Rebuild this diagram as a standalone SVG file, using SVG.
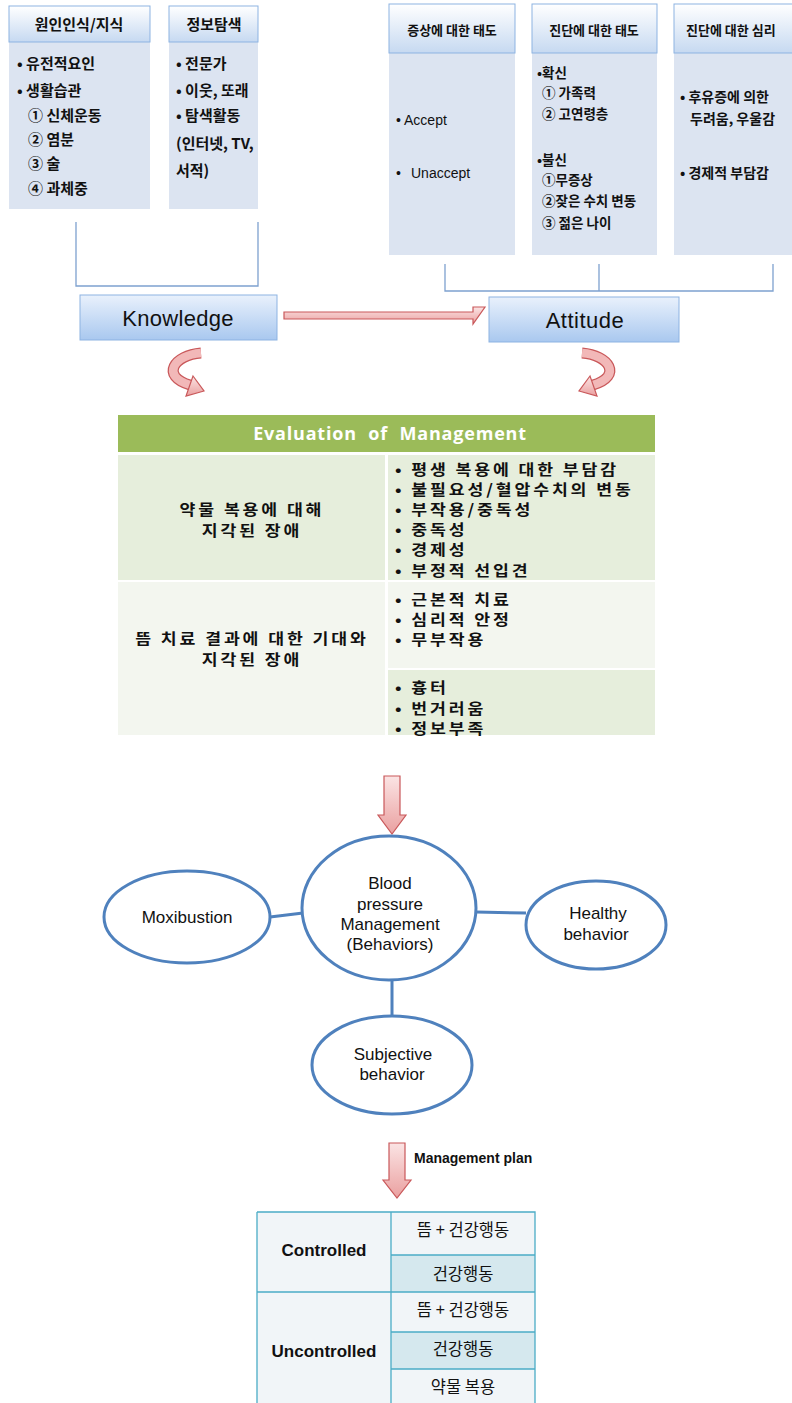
<svg xmlns="http://www.w3.org/2000/svg" width="792" height="1403" viewBox="0 0 792 1403">
<defs>
<linearGradient id="hdr" x1="0" y1="0" x2="0" y2="1"><stop offset="0" stop-color="#ffffff"/><stop offset="1" stop-color="#c6d9f1"/></linearGradient>
<linearGradient id="kbox" x1="0" y1="0" x2="0" y2="1"><stop offset="0" stop-color="#e9f1fc"/><stop offset="1" stop-color="#a9c8ef"/></linearGradient>
<linearGradient id="pink" x1="0" y1="0" x2="0" y2="1"><stop offset="0" stop-color="#fbe4e4"/><stop offset="1" stop-color="#eaa0a0"/></linearGradient>
</defs>
<style>
.hd{fill:url(#hdr);stroke:#8db3e2;stroke-width:1}
.bd{fill:#dce4f1}
.kr{font-family:"Noto Sans CJK KR","Liberation Sans",sans-serif;font-weight:bold;fill:#111}
.en{font-family:"Liberation Sans","Noto Sans CJK KR",sans-serif;fill:#111}
.ln{stroke:#7ea1cf;stroke-width:1.3;fill:none}
.arr{fill:url(#pink);stroke:#c9585a;stroke-width:1.2}
.ell{fill:#fff;stroke:#4f81bd;stroke-width:3}
.con{stroke:#4f81bd;stroke-width:3;fill:none}
.tb{stroke:#4bacc6;stroke-width:1.3}
.ev{letter-spacing:2.5px}
</style>

<g id="box-cause">
<rect x="9" y="42" width="141" height="167" class="bd"/>
<rect x="9" y="6" width="141" height="36" class="hd"/>
<text x="79" y="30" class="kr" font-size="15" text-anchor="middle">원인인식/지식</text>
<text class="kr" font-size="15"><tspan x="17" y="69">• 유전적요인</tspan><tspan x="17" y="96">• 생활습관</tspan><tspan x="28" y="121">① 신체운동</tspan><tspan x="28" y="145">② 염분</tspan><tspan x="28" y="169">③ 술</tspan><tspan x="28" y="194">④ 과체중</tspan></text>
</g>
<g id="box-info">
<rect x="169" y="42" width="89" height="167" class="bd"/>
<rect x="169" y="6" width="89" height="36" class="hd"/>
<text x="214" y="30" class="kr" font-size="15" text-anchor="middle">정보탐색</text>
<text class="kr" font-size="15"><tspan x="176" y="69">• 전문가</tspan><tspan x="176" y="96">• 이웃, 또래</tspan><tspan x="176" y="121">• 탐색활동</tspan><tspan x="176" y="149">(인터넷, TV,</tspan><tspan x="176" y="176">서적)</tspan></text>
</g>
<g id="box-symptom">
<rect x="389" y="53" width="126" height="202" class="bd"/>
<rect x="389" y="4" width="126" height="49" class="hd"/>
<text x="452" y="35" class="kr" font-size="13" text-anchor="middle">증상에 대한 태도</text>
<text class="en" font-size="14"><tspan x="396" y="125">• Accept</tspan><tspan x="396" y="178">•</tspan><tspan x="411" y="178">Unaccept</tspan></text>
</g>
<g id="box-diag">
<rect x="532" y="53" width="125" height="202" class="bd"/>
<rect x="532" y="4" width="125" height="49" class="hd"/>
<text x="594" y="35" class="kr" font-size="13" text-anchor="middle">진단에 대한 태도</text>
<text class="kr" font-size="13.5"><tspan x="537" y="78">•확신</tspan><tspan x="542" y="98">① 가족력</tspan><tspan x="542" y="119">② 고연령층</tspan><tspan x="537" y="165">•불신</tspan><tspan x="542" y="185">①무증상</tspan><tspan x="542" y="206">②잦은 수치 변동</tspan><tspan x="542" y="228">③ 젊은 나이</tspan></text>
</g>
<g id="box-psych">
<rect x="674" y="53" width="120" height="202" class="bd"/>
<rect x="674" y="4" width="120" height="49" class="hd"/>
<text x="686" y="35" class="kr" font-size="13">진단에 대한 심리</text>
<text class="kr" font-size="14"><tspan x="680" y="102">• 후유증에 의한</tspan><tspan x="690" y="124">두려움, 우울감</tspan><tspan x="680" y="178">• 경제적 부담감</tspan></text>
</g>

<g id="connectors">
<path class="ln" d="M76 222 V286 H258 V222"/>
<path class="ln" d="M445 264 V291 H773 V264 M599 264 V291"/>
<path class="arr" d="M284 312 H473 V307 H485 L473 324 V319 H284 Z"/>
<path class="con" d="M270 917 L303 913 M476 912 L526 913 M392 980 V1017"/>
</g>

<g id="knowledge">
<rect x="80" y="295" width="197" height="45" fill="url(#kbox)" stroke="#8db3e2"/>
<text x="178" y="326" class="en" font-size="22" letter-spacing="0.3" text-anchor="middle">Knowledge</text>
</g>
<g id="attitude">
<rect x="489" y="297" width="190" height="45" fill="url(#kbox)" stroke="#8db3e2"/>
<text x="585" y="328" class="en" font-size="22" letter-spacing="0.5" text-anchor="middle">Attitude</text>
</g>

<g id="curve-left">
<path d="M201 353 C174 355 160 376 190 385" fill="none" stroke="#c9585a" stroke-width="11"/>
<path d="M201 353 C174 355 160 376 190 385" fill="none" stroke="#f2b8b8" stroke-width="8.5"/>
<path class="arr" d="M193 376 L204 391 L186 396 Z"/>
</g>
<g id="curve-right">
<path d="M582 353 C609 355 623 376 593 385" fill="none" stroke="#c9585a" stroke-width="11"/>
<path d="M582 353 C609 355 623 376 593 385" fill="none" stroke="#f2b8b8" stroke-width="8.5"/>
<path class="arr" d="M590 376 L579 391 L597 396 Z"/>
</g>

<g id="evaluation">
<rect x="118" y="415" width="537" height="37" fill="#9bbb59"/>
<text x="390" y="440" font-family="Open Sans, Liberation Sans, sans-serif" font-weight="bold" font-size="18" fill="#fff" text-anchor="middle" letter-spacing="0.8" word-spacing="6">Evaluation of Management</text>
<rect x="118" y="455" width="267" height="125" fill="#e6eedc"/>
<rect x="388" y="455" width="267" height="125" fill="#e6eedc"/>
<rect x="118" y="582" width="267" height="153" fill="#f3f6ef"/>
<rect x="388" y="582" width="267" height="86" fill="#f3f6ef"/>
<rect x="388" y="670" width="267" height="65" fill="#e6eedc"/>
<g transform="translate(252 0) scale(1.15 1) translate(-252 0)">
<text class="kr ev" font-size="15" text-anchor="middle"><tspan x="252" y="515">약물 복용에 대해</tspan><tspan x="252" y="536">지각된 장애</tspan></text>
<text class="kr ev" font-size="15" text-anchor="middle"><tspan x="252" y="644">뜸 치료 결과에 대한 기대와</tspan><tspan x="252" y="665">지각된 장애</tspan></text>
</g>
<g transform="translate(395 0) scale(1.15 1) translate(-395 0)">
<text class="kr ev" font-size="15"><tspan x="395" y="475">• 평생 복용에 대한 부담감</tspan><tspan x="395" y="495">• 불필요성/혈압수치의 변동</tspan><tspan x="395" y="515">• 부작용/중독성</tspan><tspan x="395" y="535">• 중독성</tspan><tspan x="395" y="555">• 경제성</tspan><tspan x="395" y="576">• 부정적 선입견</tspan></text>
<text class="kr ev" font-size="15"><tspan x="395" y="605">• 근본적 치료</tspan><tspan x="395" y="625">• 심리적 안정</tspan><tspan x="395" y="645">• 무부작용</tspan><tspan x="395" y="693">• 흉터</tspan><tspan x="395" y="714">• 번거러움</tspan><tspan x="395" y="734">• 정보부족</tspan></text>
</g>
</g>

<g id="arrow-down-1">
<path class="arr" d="M384 776 H400 V815 H406 L392 834 L378 815 H384 Z"/>
</g>

<g id="bp-management">
<ellipse cx="389" cy="908" rx="87" ry="72" class="ell"/>
<text class="en" font-size="17" text-anchor="middle" fill="#333"><tspan x="390" y="889">Blood</tspan><tspan x="390" y="910">pressure</tspan><tspan x="390" y="930">Management</tspan><tspan x="390" y="950">(Behaviors)</tspan></text>
</g>
<g id="moxibustion">
<ellipse cx="187" cy="917" rx="83" ry="46" class="ell"/>
<text x="187" y="923" class="en" font-size="17" fill="#333" text-anchor="middle">Moxibustion</text>
</g>
<g id="healthy">
<ellipse cx="596" cy="925" rx="70" ry="44" class="ell"/>
<text class="en" font-size="17" fill="#333" text-anchor="middle"><tspan x="598" y="919">Healthy</tspan><tspan x="596" y="940">behavior</tspan></text>
</g>
<g id="subjective">
<ellipse cx="392" cy="1065" rx="80" ry="49" class="ell"/>
<text class="en" font-size="17" fill="#333" text-anchor="middle"><tspan x="393" y="1060">Subjective</tspan><tspan x="392" y="1080">behavior</tspan></text>
</g>

<g id="arrow-down-2">
<path class="arr" d="M389 1143 H405 V1180 H411 L397 1198 L383 1180 H389 Z"/>
<text x="414" y="1163" class="en" font-size="14" font-weight="bold" fill="#222">Management plan</text>
</g>

<g id="plan-table">
<rect x="257" y="1212" width="134" height="191" fill="#f1f5f8"/>
<rect x="391" y="1212" width="144" height="191" fill="#f1f5f8"/>
<rect x="391" y="1255" width="144" height="37" fill="#d5e8ee"/>
<rect x="391" y="1332" width="144" height="37" fill="#d5e8ee"/>
<path class="tb" d="M257 1212 H535 V1403 M257 1212 V1403 M391 1212 V1403 M391 1255 H535 M257 1292 H535 M391 1332 H535 M391 1369 H535" fill="none"/>
<text x="324" y="1256" class="en" font-size="17" font-weight="bold" text-anchor="middle">Controlled</text>
<text x="324" y="1357" class="en" font-size="17" font-weight="bold" text-anchor="middle">Uncontrolled</text>
<text font-family="Noto Sans CJK KR, sans-serif" font-size="16.5" fill="#111" text-anchor="middle"><tspan x="463" y="1236">뜸 + 건강행동</tspan><tspan x="463" y="1280">건강행동</tspan><tspan x="463" y="1316">뜸 + 건강행동</tspan><tspan x="463" y="1355">건강행동</tspan><tspan x="463" y="1393">약물 복용</tspan></text>
</g>
</svg>
